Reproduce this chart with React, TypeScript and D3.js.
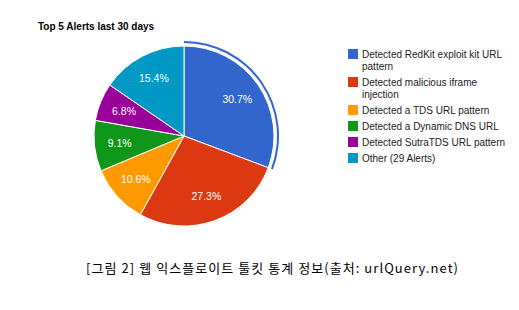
import React from "react";
import * as d3 from "d3";

const categories = [
  "Detected RedKit exploit kit URL pattern",
  "Detected malicious iframe injection",
  "Detected a TDS URL pattern",
  "Detected a Dynamic DNS URL",
  "Detected SutraTDS URL pattern",
  "Other (29 Alerts)",
];
const legendLines = [
  ["Detected RedKit exploit kit URL", "pattern"],
  ["Detected malicious iframe", "injection"],
  ["Detected a TDS URL pattern"],
  ["Detected a Dynamic DNS URL"],
  ["Detected SutraTDS URL pattern"],
  ["Other (29 Alerts)"],
];
const values = [30.7, 27.3, 10.6, 9.1, 6.8, 15.4];
const colors = ["#3366cc", "#dc3912", "#ff9900", "#109618", "#990099", "#0099c6"];
const title = "Top 5 Alerts last 30 days";
const caption = "[그림 2] 웹 익스플로이트 툴킷 통계 정보(출처: urlQuery.net)";

export default function App() {
  const cx = 184, cy = 136, r = 90;
  const pie = d3.pie<number>().sort(null).value((d) => d);
  const arcs = pie(values);
  const arc = d3.arc<d3.PieArcDatum<number>>().innerRadius(0).outerRadius(r);
  const labelArc = d3.arc<d3.PieArcDatum<number>>().innerRadius(r * 0.72).outerRadius(r * 0.72);
  const ring = d3.arc<d3.PieArcDatum<number>>().innerRadius(r + 3).outerRadius(r + 5);
  const font = "Arial, 'Liberation Sans', sans-serif";
  let y = 54;
  const legendRows = legendLines.map((lines, i) => {
    const row = { y, lines, i };
    y += (lines.length - 1) * 12 + 16;
    return row;
  });
  return (
    <svg width={519} height={310} style={{ position: "absolute", left: 0, top: 0 }}>
      <rect width={519} height={310} fill="#fff" />
      <text x={38} y={30} fontFamily={font} fontSize={10} fontWeight="bold" fill="#000">
        {title}
      </text>
      <g transform={`translate(${cx},${cy})`}>
        {arcs.map((a, i) => (
          <path key={i} d={arc(a) || ""} fill={colors[i]} stroke="#fff" strokeWidth={1} />
        ))}
        <path d={ring(arcs[0]) || ""} fill={colors[0]} />
        {arcs.map((a, i) => {
          const [x, yy] = labelArc.centroid(a);
          return (
            <text key={i} x={x} y={yy} dy="0.35em" textAnchor="middle" fontFamily={font} fontSize={10.5} fill="#fff">
              {values[i].toFixed(1)}%
            </text>
          );
        })}
      </g>
      {legendRows.map((row) => (
        <g key={row.i}>
          <rect x={348} y={row.y - 5} width={10} height={10} fill={colors[row.i]} />
          {row.lines.map((l, j) => (
            <text key={j} x={362} y={row.y + j * 12} dy="0.35em" fontFamily={font} fontSize={10} fill="#222">
              {l}
            </text>
          ))}
        </g>
      ))}
      <text x={86} y={273} fontFamily="'Noto Sans CJK KR', sans-serif" fontSize={13} fill="#000" textLength={372} lengthAdjust="spacing">
        {caption}
      </text>
    </svg>
  );
}
